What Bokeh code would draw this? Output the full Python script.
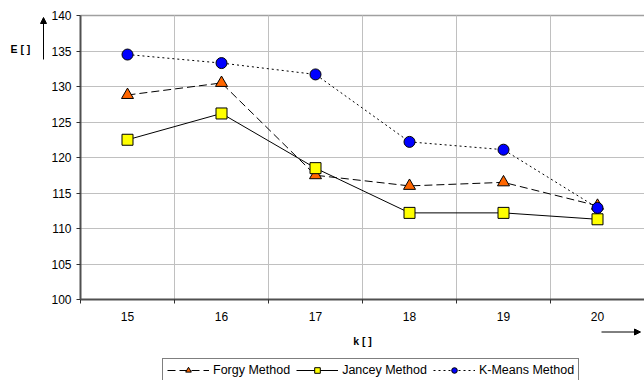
from bokeh.plotting import figure
from bokeh.models import (Range1d, FixedTicker, LinearAxis, Legend, LegendItem, Label,
                          Arrow, NormalHead)
from bokeh.embed import file_html
from bokeh.resources import INLINE

k = [15, 16, 17, 18, 19, 20]
forgy = [128.8, 130.5, 117.5, 116.0, 116.5, 113.2]
jancey = [122.5, 126.2, 118.5, 112.2, 112.2, 111.3]
kmeans = [134.5, 133.3, 131.7, 122.2, 121.1, 112.9]
y_ticks = [100, 105, 110, 115, 120, 125, 130, 135, 140]
x_bounds = [14.5, 15.5, 16.5, 17.5, 18.5, 19.5, 20.5]
x_labels = {15: "15", 16: "16", 17: "17", 18: "18", 19: "19", 20: "20"}
series_names = ["Forgy Method", "Jancey Method", "K-Means Method"]
x_title = "k [ ]"
y_title = "E [ ]"

FONT = "Liberation Sans"
W, H = 644, 380
LEFT, TOP, BOTTOM = 80, 15, 299          # plot-area edges in pixels
X0, X1, Y0, Y1 = 14.5, 20.5, 100, 140    # plot-area data extents
px_x = (W - LEFT) / (X1 - X0)
px_y = (BOTTOM - TOP) / (Y1 - Y0)

p = figure(width=W, height=H, output_backend="svg", toolbar_location=None,
           x_range=Range1d(X0 - LEFT / px_x, X1),
           y_range=Range1d(Y0 - (H - BOTTOM) / px_y, Y1 + TOP / px_y),
           x_axis_type=None, y_axis_type=None,
           min_border_left=0, min_border_right=0, min_border_top=0, min_border_bottom=0)
p.outline_line_color = None
p.background_fill_color = "white"
p.border_fill_color = "white"

# gridlines drawn as long inner minor ticks of helper axes
gx = LinearAxis(fixed_location=Y0, bounds=(X0, X1),
                ticker=FixedTicker(ticks=[], minor_ticks=x_bounds[1:-1]), level="underlay")
gx.axis_line_color = None
gx.major_tick_line_color = None
gx.minor_tick_line_color = "#C0C0C0"
gx.minor_tick_in = BOTTOM - TOP
gx.minor_tick_out = 0
p.add_layout(gx, "below")

gy = LinearAxis(fixed_location=X0, bounds=(Y0, Y1),
                ticker=FixedTicker(ticks=[], minor_ticks=y_ticks[1:-1]), level="underlay")
gy.axis_line_color = None
gy.major_tick_line_color = None
gy.minor_tick_line_color = "#C0C0C0"
gy.minor_tick_in = W - LEFT
gy.minor_tick_out = 0
p.add_layout(gy, "left")

# top border of the plot area
topb = LinearAxis(fixed_location=Y1, bounds=(X0, X1),
                  ticker=FixedTicker(ticks=[]), level="underlay")
topb.axis_line_color = "#A0A0A0"
topb.axis_line_width = 1.5
topb.major_tick_line_color = None
topb.minor_tick_line_color = None
p.add_layout(topb, "above")

yaxis = LinearAxis(fixed_location=X0, bounds=(Y0, Y1), ticker=FixedTicker(ticks=y_ticks))
yaxis.axis_line_color = "#505050"
yaxis.axis_line_width = 2
yaxis.major_tick_line_color = "#303030"
yaxis.major_tick_in = 0
yaxis.major_tick_out = 4
yaxis.minor_tick_line_color = None
yaxis.major_label_text_font = FONT
yaxis.major_label_text_font_size = "12px"
yaxis.major_label_text_color = "black"
yaxis.major_label_standoff = 5
p.add_layout(yaxis, "left")

xaxis = LinearAxis(fixed_location=Y0, bounds=(X0, X1),
                   ticker=FixedTicker(ticks=k, minor_ticks=x_bounds),
                   major_label_overrides=x_labels)
xaxis.axis_line_color = "#505050"
xaxis.axis_line_width = 2
xaxis.major_tick_line_color = None
xaxis.major_tick_in = 0
xaxis.major_tick_out = 4
xaxis.minor_tick_line_color = "#303030"
xaxis.minor_tick_in = 0
xaxis.minor_tick_out = 4
xaxis.major_label_text_font = FONT
xaxis.major_label_text_font_size = "12px"
xaxis.major_label_text_color = "black"
xaxis.major_label_standoff = 8
p.add_layout(xaxis, "below")

lf = p.line(k, forgy, line_color="black", line_width=1, line_dash="8 4")
sf = p.scatter(k, forgy, marker="triangle", size=12, fill_color="#FF6600", line_color="black", line_width=1)
lj = p.line(k, jancey, line_color="black", line_width=1)
sj = p.scatter(k, jancey, marker="square", size=11, fill_color="#FFFF00", line_color="black", line_width=1)
lk = p.line(k, kmeans, line_color="black", line_width=1, line_dash="2 3")
sk = p.scatter(k, kmeans, marker="circle", size=11, fill_color="#0000FF", line_color="black", line_width=1)

# titles and arrows (screen units: origin at bottom-left of the canvas)
p.add_layout(Label(x=362, y=H - 340, x_units="screen", y_units="screen", text=x_title,
                   text_font=FONT, text_font_size="10.5px", text_font_style="bold",
                   text_color="black", text_align="center", text_baseline="middle"))
p.add_layout(Label(x=10, y=H - 48.5, x_units="screen", y_units="screen", text=y_title,
                   text_font=FONT, text_font_size="10.5px", text_font_style="bold",
                   text_color="black", text_align="left", text_baseline="middle"))
p.add_layout(Arrow(end=NormalHead(size=6, fill_color="black", line_color="black"),
                   x_start=43, y_start=H - 59, x_end=43, y_end=H - 17,
                   start_units="screen", end_units="screen", line_width=1, line_color="black"))
p.add_layout(Arrow(end=NormalHead(size=6, fill_color="black", line_color="black"),
                   x_start=601, y_start=H - 331.5, x_end=640, y_end=H - 331.5,
                   start_units="screen", end_units="screen", line_width=1, line_color="black"))

legend = Legend(items=[LegendItem(label=series_names[0], renderers=[lf, sf]),
                       LegendItem(label=series_names[1], renderers=[lj, sj]),
                       LegendItem(label=series_names[2], renderers=[lk, sk])],
                orientation="horizontal", location=(162, -2))
legend.label_text_font = FONT
legend.label_text_font_size = "12.5px"
legend.label_text_color = "black"
legend.glyph_width = 42
legend.glyph_height = 14
legend.label_height = 14
legend.label_standoff = 4
legend.spacing = 6
legend.padding = 4
legend.margin = 0
legend.border_line_color = "black"
legend.border_line_width = 1
legend.background_fill_color = "white"
legend.background_fill_alpha = 1
p.add_layout(legend)

open("out.html", "w").write(file_html(p, INLINE))
